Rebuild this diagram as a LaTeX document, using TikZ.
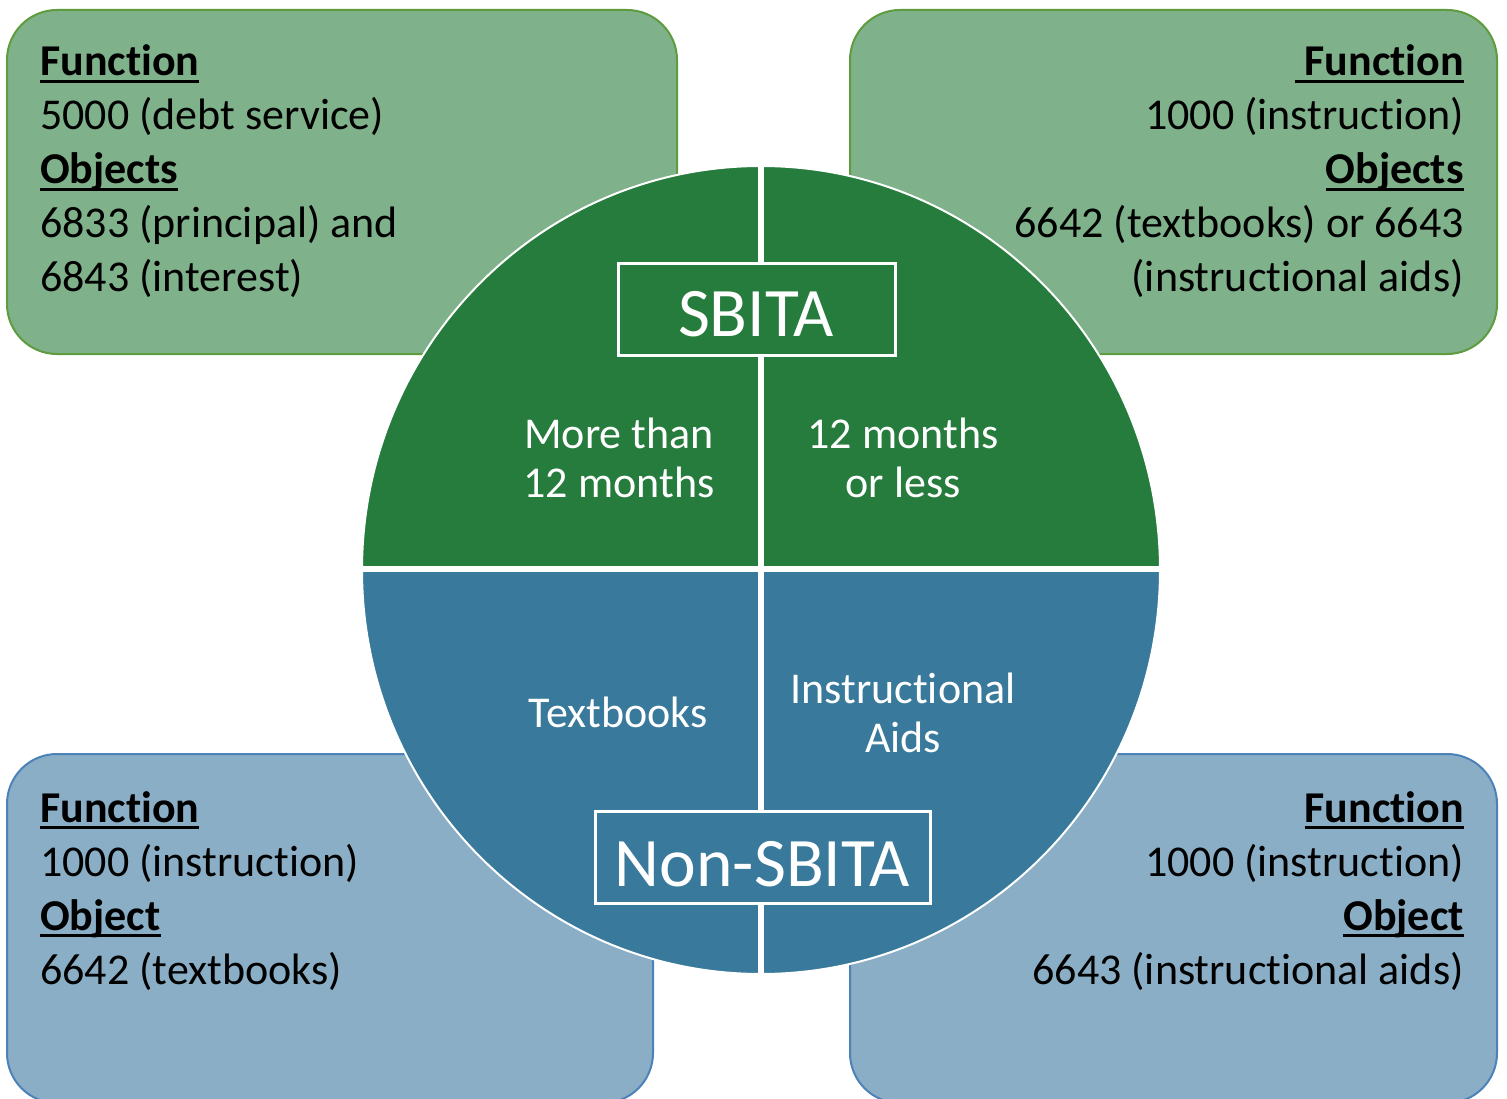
\documentclass[tikz,border=0pt]{standalone}
\usepackage{fontspec}
\setmainfont{Carlito}[Ligatures=NoCommon]
\definecolor{lgreen}{HTML}{7FB18A}
\definecolor{gborder}{HTML}{5E9C3F}
\definecolor{dgreen}{HTML}{267C3D}
\definecolor{dblue}{HTML}{39799B}
\definecolor{lblue}{HTML}{89AEC5}
\definecolor{bborder}{HTML}{4C82B8}
\newcommand{\ulbar}[1]{\setbox0\hbox{#1}\rlap{\rule[-7pt]{\wd0}{3pt}}\box0}
\tikzset{
  gbox/.style={rectangle, fill=lgreen, draw=gborder, line width=2pt, rounded corners=50pt, inner sep=0pt},
  bbox/.style={rectangle, fill=lblue, draw=bborder, line width=2pt, rounded corners=50pt, inner sep=0pt},
  boxtext/.style={inner sep=0pt, text=black, font=\fontsize{44}{54}\selectfont},
  ctext/.style={inner sep=0pt, text=white, font=\fontsize{44}{49}\selectfont},
  labelbox/.style={draw=white, line width=3pt, inner sep=0pt},
  labeltext/.style={inner sep=0pt, text=white, font=\fontsize{69.5}{80}\selectfont},
  sep/.style={draw=white, line width=5.5pt}
}
\begin{document}
\begin{tikzpicture}[x=1pt,y=-1pt]
\useasboundingbox (0,0) rectangle (1507,1099);
\fill[white] (0,0) rectangle (1507,1099);
% corner boxes
\node[gbox, minimum width=670pt, minimum height=344pt] (tl) at (342,182) {};
\node[gbox, minimum width=647pt, minimum height=344pt] (tr) at (1173.5,182) {};
\node[bbox, minimum width=646pt, minimum height=349pt] (bl) at (330,928.5) {};
\node[bbox, minimum width=647pt, minimum height=349pt] (br) at (1173.5,928.5) {};
% box texts
\node[boxtext, anchor=base west] (tltext) at (40,76) {\begin{tabular}[t]{@{}l@{}}\textbf{\ulbar{Function}}\\5000 (debt service)\\\textbf{\ulbar{Objects}}\\6833 (principal) and\\6843 (interest)\end{tabular}};
\node[boxtext, anchor=base east] (trtext) at (1464,76) {\begin{tabular}[t]{@{}r@{}}\textbf{\ulbar{\hspace{10pt}Function}}\\1000 (instruction)\\\textbf{\ulbar{Objects}}\\6642 (textbooks) or 6643\\(instructional aids)\end{tabular}};
\node[boxtext, anchor=base west] (bltext) at (40,822) {\begin{tabular}[t]{@{}l@{}}\textbf{\ulbar{Function}}\\1000 (instruction)\\\textbf{\ulbar{Object}}\\6642 (textbooks)\end{tabular}};
\node[boxtext, anchor=base east] (brtext) at (1464,822) {\begin{tabular}[t]{@{}r@{}}\textbf{\ulbar{Function}}\\1000 (instruction)\\\textbf{\ulbar{Object}}\\6643 (instructional aids)\end{tabular}};
% circle
\coordinate (c) at (761,570);
\begin{scope}
\clip (c) ellipse [x radius=399pt, y radius=404pt];
\fill[dgreen] (350,150) rectangle (1170,570);
\fill[dblue] (350,570) rectangle (1170,990);
\end{scope}
\draw[white, line width=2pt] (c) ellipse [x radius=399pt, y radius=404pt];
\coordinate (ctop) at (761,166);
\coordinate (cbot) at (761,974);
\coordinate (cleft) at (362,569);
\coordinate (cright) at (1160,569);
\draw[sep] (ctop) -- (cbot);
\draw[sep] (cleft) -- (cright);
% quadrant texts
\node[ctext, anchor=base] (q1) at (619,448) {\begin{tabular}[t]{@{}c@{}}More than\\12 months\end{tabular}};
\node[ctext, anchor=base] (q2) at (903,448) {\begin{tabular}[t]{@{}c@{}}12 months\\or less\end{tabular}};
\node[ctext, anchor=base] (q3) at (618,727) {Textbooks};
\node[ctext, anchor=base] (q4) at (903,703) {\begin{tabular}[t]{@{}c@{}}Instructional\\Aids\end{tabular}};
% label boxes
\node[labelbox, fill=dgreen, minimum width=277pt, minimum height=92pt] (sbox) at (756.5,309.5) {};
\node[labeltext, anchor=base] (sbita) at (756,337) {SBITA};
\node[labelbox, fill=dblue, minimum width=335pt, minimum height=92pt] (nbox) at (762.5,857) {};
\node[labeltext, anchor=base] (nonsbita) at (762.5,886) {Non-SBITA};
\end{tikzpicture}
\end{document}
